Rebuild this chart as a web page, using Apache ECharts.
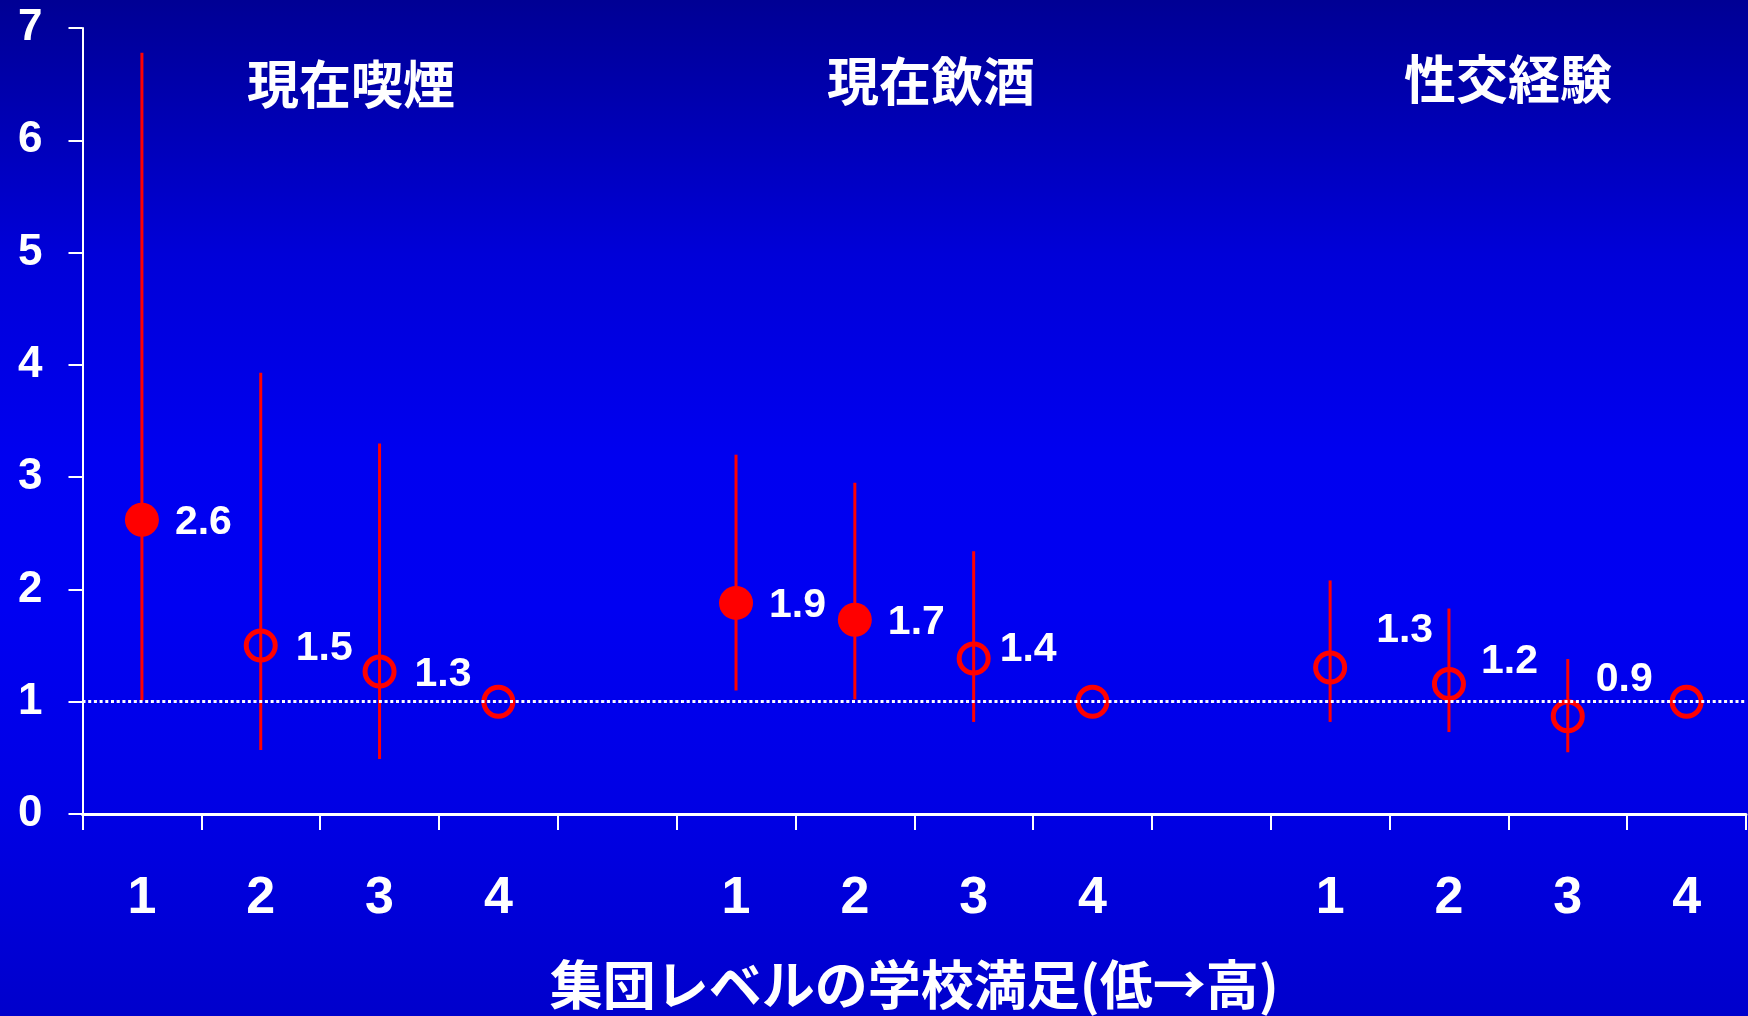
<!DOCTYPE html>
<html>
<head>
<meta charset="utf-8">
<script src="https://cdn.jsdelivr.net/npm/echarts@6/dist/echarts.min.js"></script>
<style>
  html, body { margin: 0; padding: 0; }
  #chart {
    width: 1748px; height: 1016px;
    background: linear-gradient(to bottom, #000094 0%, #0000D8 25%, #0000F0 45%, #0000F2 60%, #0000E4 80%, #0000CC 100%);
  }
</style>
</head>
<body>
<div id="chart"></div>
<script>
// ---------- data ----------
const groups = ['現在喫煙', '現在飲酒', '性交経験'];
const levels = ['1', '2', '3', '4'];
const xAxisTitle = '集団レベルの学校満足(低→高)';
const yTicks = [0, 1, 2, 3, 4, 5, 6, 7];

// odds ratios (level 4 = reference)
const smokingOR  = [2.62, 1.50, 1.27, 1.00];
const smokingLow = [1.01, 0.57, 0.49, null];
const smokingHigh= [6.78, 3.93, 3.30, null];
const smokingLabel = ['2.6', '1.5', '1.3', ''];
const smokingSig = [true, false, false, false];

const drinkingOR  = [1.88, 1.73, 1.385, 1.00];
const drinkingLow = [1.10, 1.02, 0.82, null];
const drinkingHigh= [3.20, 2.95, 2.34, null];
const drinkingLabel = ['1.9', '1.7', '1.4', ''];
const drinkingSig = [true, true, false, false];

const sexOR  = [1.305, 1.157, 0.87, 1.00];
const sexLow = [0.82, 0.73, 0.55, null];
const sexHigh= [2.08, 1.83, 1.38, null];
const sexLabel = ['1.3', '1.2', '0.9', ''];
const sexSig = [false, false, false, false];

const referenceValue = 1;

// ---------- style / layout ----------
const RED = '#FF0000';
const LATIN = "'Liberation Sans', Arial, 'Noto Sans CJK JP', sans-serif";
const CJK = "'Noto Sans CJK JP', 'Liberation Sans', sans-serif";
// extra label shifts per group/point [dx, dy]
const labelShift = [
  [[0, 3], [0, 3], [0, 3], [0, 0]],
  [[0, 3], [0, 3], [-9, -9], [0, 0]],
  [[11, -37], [-3, -22], [-7, -37], [0, 0]]
];
const titlePos = [[351, 84], [931, 81], [1508, 79]];

// ---------- build ----------
const groupData = [
  { or: smokingOR, lo: smokingLow, hi: smokingHigh, lab: smokingLabel, sig: smokingSig },
  { or: drinkingOR, lo: drinkingLow, hi: drinkingHigh, lab: drinkingLabel, sig: drinkingSig },
  { or: sexOR, lo: sexLow, hi: sexHigh, lab: sexLabel, sig: sexSig }
];

const categories = [];
groups.forEach((g, gi) => {
  levels.forEach(l => categories.push(l));
  if (gi < groups.length - 1) categories.push('');
});

const errData = [], filled = [], open = [];
groupData.forEach((gd, gi) => {
  gd.or.forEach((v, i) => {
    const xi = gi * (levels.length + 1) + i;
    if (gd.lo[i] != null) errData.push([xi, gd.lo[i], gd.hi[i]]);
    const item = {
      value: [xi, v],
      label: { formatter: gd.lab[i], offset: labelShift[gi][i] }
    };
    (gd.sig[i] ? filled : open).push(item);
  });
});

const labelCfg = {
  show: true, position: 'right', distance: 16,
  color: '#FFFFFF', fontSize: 41, fontWeight: 'bold', fontFamily: LATIN
};

const chart = echarts.init(document.getElementById('chart'), null, { renderer: 'canvas' });
chart.setOption({
  backgroundColor: 'transparent',
  animation: false,
  grid: { left: 82.5, right: 2, top: 28, bottom: 199.5, containLabel: false },
  xAxis: {
    type: 'category',
    data: categories,
    boundaryGap: true,
    name: xAxisTitle,
    nameLocation: 'middle',
    nameGap: 144,
    nameTextStyle: { color: '#FFFFFF', fontSize: 53, fontWeight: 'bold', fontFamily: CJK },
    axisLine: { lineStyle: { color: '#FFFFFF', width: 3 } },
    axisTick: { show: true, length: 16, lineStyle: { color: '#FFFFFF', width: 2 }, interval: 0 },
    axisLabel: { color: '#FFFFFF', fontSize: 52, fontWeight: 'bold', fontFamily: LATIN, margin: 59, interval: 0 },
    splitLine: { show: false }
  },
  yAxis: {
    type: 'value',
    min: yTicks[0], max: yTicks[yTicks.length - 1], interval: 1,
    axisLine: { show: true, lineStyle: { color: '#FFFFFF', width: 2 } },
    axisTick: { show: true, length: 14, lineStyle: { color: '#FFFFFF', width: 2 } },
    axisLabel: { color: '#FFFFFF', fontSize: 44, fontWeight: 'bold', fontFamily: LATIN, margin: 40, padding: [5, 0, 0, 0] },
    splitLine: { show: false }
  },
  graphic: groups.map((g, i) => ({
    type: 'text', x: titlePos[i][0], y: titlePos[i][1],
    style: { text: g, fill: '#FFFFFF', font: "bold 52px 'Noto Sans CJK JP'", textAlign: 'center', textVerticalAlign: 'middle' }
  })),
  series: [
    {
      type: 'custom',
      data: errData,
      z: 2,
      renderItem: (params, api) => {
        const a = api.coord([api.value(0), api.value(1)]);
        const b = api.coord([api.value(0), api.value(2)]);
        return { type: 'line', shape: { x1: a[0], y1: a[1], x2: b[0], y2: b[1] }, style: { stroke: RED, lineWidth: 3 } };
      }
    },
    {
      type: 'scatter',
      data: [],
      z: 1,
      markLine: {
        silent: true, symbol: 'none',
        label: { show: false },
        lineStyle: { color: '#FFFFFF', width: 3, type: [3, 2.7], opacity: 1 },
        data: [{ yAxis: referenceValue }]
      }
    },
    {
      type: 'scatter', data: filled, z: 3,
      symbol: 'circle', symbolSize: 34,
      itemStyle: { color: RED, opacity: 1 },
      label: labelCfg
    },
    {
      type: 'scatter', data: open, z: 3,
      symbol: 'circle', symbolSize: 29,
      itemStyle: { color: 'rgba(0,0,0,0)', borderColor: RED, borderWidth: 5, opacity: 1 },
      label: Object.assign({}, labelCfg, { distance: 18 })
    }
  ]
});
</script>
</body>
</html>
